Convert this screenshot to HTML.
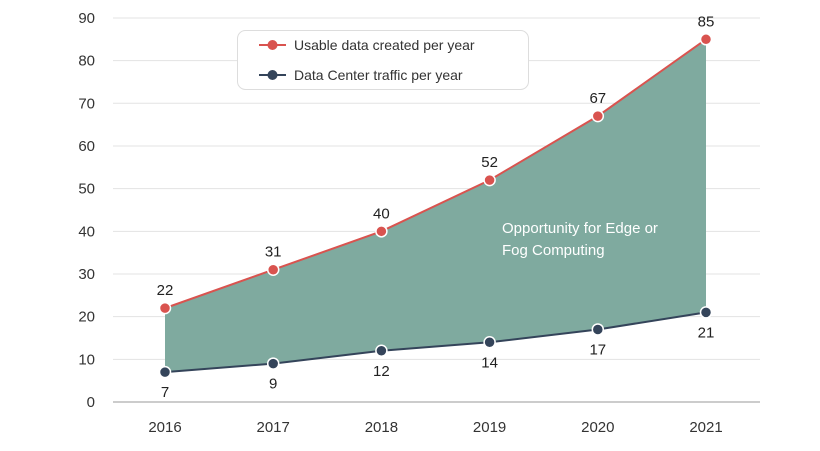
<!DOCTYPE html>
<html><head><meta charset="utf-8"><style>
html,body{margin:0;padding:0;background:#fff;}
svg{display:block;font-family:"Liberation Sans",sans-serif;}
</style></head><body>
<svg id="chart" width="820" height="451"></svg>
<script>
const years = ["2016","2017","2018","2019","2020","2021"];
const usable = [22,31,40,52,67,85];
const traffic = [7,9,12,14,17,21];
const yTicks = [0,10,20,30,40,50,60,70,80,90];
const NS="http://www.w3.org/2000/svg";
const svg=document.getElementById('chart');
function x(i){return 165+i*108.2;}
function y(v){return 402-v*4.267;}
function mk(t,a,p){const e=document.createElementNS(NS,t);for(const k in a)e.setAttribute(k,a[k]);(p||svg).appendChild(e);return e;}
yTicks.forEach(t=>{
  const l=mk('line',{x1:113,x2:760,y1:y(t),y2:y(t),stroke:t===0?'#999':'#e3e3e3','stroke-width':1});
  
  
  const tx=mk('text',{x:95,y:y(t)+5,'text-anchor':'end','font-size':15,fill:'#333'});tx.textContent=t;
  
  
});
years.forEach((yr,i)=>{
  const tx=mk('text',{x:x(i),y:432,'text-anchor':'middle','font-size':15,fill:'#333'});tx.textContent=yr;
  
  
});
let d='';usable.forEach((v,i)=>{d+=(i?'L':'M')+x(i)+','+y(v);});
for(let i=traffic.length-1;i>=0;i--)d+='L'+x(i)+','+y(traffic[i]);
const area=mk('path',{d:d+'Z',fill:'#7faa9f'});


function series(vals,color,name,above){
  const pts=vals.map((v,i)=>x(i)+','+y(v)).join(' ');
  const pl=mk('polyline',{points:pts,fill:'none',stroke:color,'stroke-width':2});
  
  
  vals.forEach((v,i)=>{
    const c=mk('circle',{cx:x(i),cy:y(v),r:5.5,fill:color,stroke:'#fff','stroke-width':1.5});
    
    
    const t=mk('text',{x:x(i),y:above?y(v)-13:y(v)+25,'text-anchor':'middle','font-size':15,fill:'#222'});t.textContent=v;
    
    
  });
}
series(usable,'#d9534f','usable-data',true);
series(traffic,'#34445a','traffic',false);
const a1=mk('text',{x:502,y:233,'font-size':15,fill:'#fff'});a1.textContent='Opportunity for Edge or';


const a2=mk('text',{x:502,y:255,'font-size':15,fill:'#fff'});a2.textContent='Fog Computing';


const lg=mk('g',{});


mk('rect',{x:237.5,y:30.5,width:291,height:59,rx:8,fill:'#fff',stroke:'#ddd'},lg);
[['Usable data created per year','#d9534f',45],['Data Center traffic per year','#34445a',75]].forEach(([lab,c,yy])=>{
  const g=mk('g',{},lg);
  
  
  mk('line',{x1:259,x2:286,y1:yy,y2:yy,stroke:c,'stroke-width':2},g);
  mk('circle',{cx:272.5,cy:yy,r:5,fill:c},g);
  const t=mk('text',{x:294,y:yy+5,'font-size':14,fill:'#333'},g);t.textContent=lab;
});
</script>
</body></html>
